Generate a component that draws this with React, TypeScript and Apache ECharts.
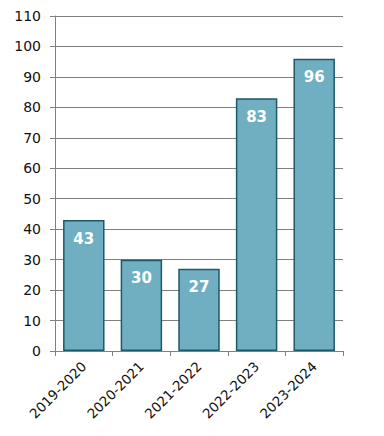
import React, { useEffect, useRef } from "react";
import * as echarts from "echarts";

const categories = ["2019-2020", "2020-2021", "2021-2022", "2022-2023", "2023-2024"];
const values = [43, 30, 27, 83, 96];

export default function App() {
  const ref = useRef<HTMLDivElement>(null);
  useEffect(() => {
    if (!ref.current) return;
    const chart = echarts.init(ref.current, undefined, { renderer: "svg" });
    chart.setOption({
      animation: false,
      grid: { left: 55, right: 41, top: 16, bottom: 85, containLabel: false },
      xAxis: {
        type: "category",
        data: categories,
        axisLine: { show: true, lineStyle: { color: "#808080", width: 1 } },
        axisTick: { show: true, length: 5, lineStyle: { color: "#808080" } },
        axisLabel: {
          rotate: 45,
          color: "#111111",
          fontSize: 13.5,
          fontFamily: "DejaVu Sans",
          margin: 13,
        },
      },
      yAxis: {
        type: "value",
        min: 0,
        max: 110,
        interval: 10,
        axisLine: { show: true, lineStyle: { color: "#808080", width: 1 } },
        axisTick: { show: true, length: 5, lineStyle: { color: "#808080" } },
        splitLine: { show: true, lineStyle: { color: "#808080", width: 1 } },
        axisLabel: {
          color: "#111111",
          fontSize: 14,
          fontFamily: "DejaVu Sans",
          margin: 14,
        },
      },
      series: [
        {
          type: "bar",
          data: values,
          barWidth: "72%",
          itemStyle: { color: "#70AFC2", borderColor: "#1F5868", borderWidth: 1.5 },
          label: {
            show: true,
            position: "insideTop",
            distance: 11,
            color: "#ffffff",
            fontWeight: "bold",
            fontSize: 15,
            fontFamily: "DejaVu Sans",
          },
        },
      ],
    });
    return () => chart.dispose();
  }, []);
  return <div ref={ref} style={{ width: 384, height: 436, margin: -8 }} />;
}
